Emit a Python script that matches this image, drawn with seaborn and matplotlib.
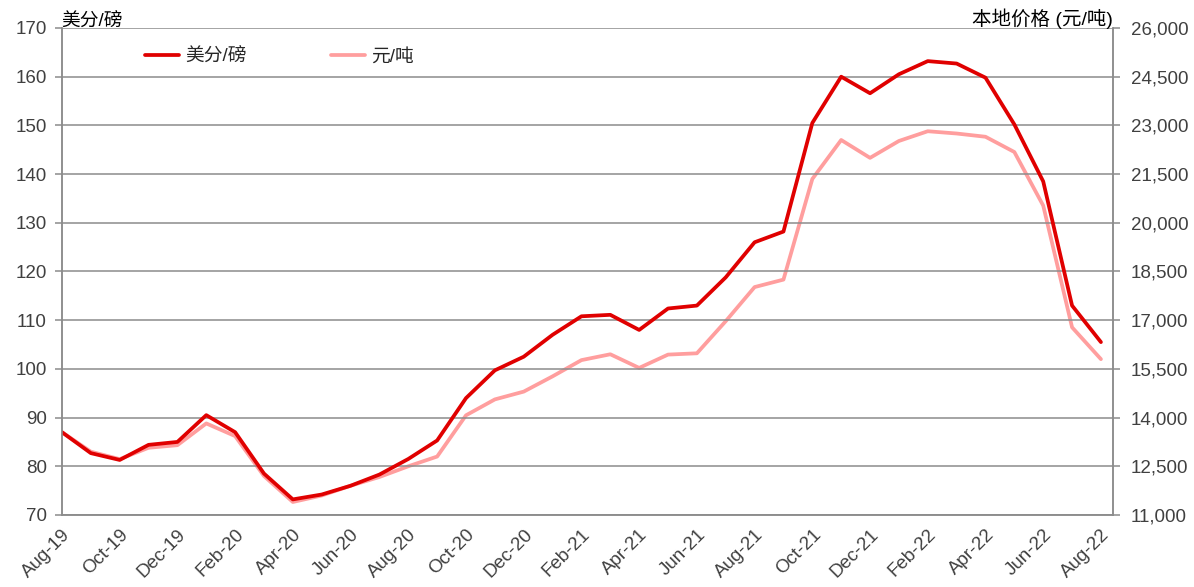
import pandas as pd
import numpy as np
import matplotlib
matplotlib.use("Agg")
import matplotlib.pyplot as plt
import seaborn as sns

# Dados (mensal, Aug-19 a Aug-22)
meses = pd.date_range("2019-08-01", "2022-08-01", freq="MS")
usc_lb = [87.0, 82.7, 81.3, 84.4, 85.0, 90.5, 87.0, 78.5, 73.2, 74.2,
          76.0, 78.3, 81.5, 85.3, 94.0, 99.7, 102.5, 107.0, 110.8, 111.1,
          108.0, 112.4, 113.0, 118.8, 126.0, 128.2, 150.5, 160.0, 156.6, 160.5,
          163.2, 162.7, 159.8, 150.2, 138.5, 113.0, 105.5]
yuan_t = [13550, 12950, 12720, 13070, 13150, 13820, 13430, 12200, 11400, 11600,
          11900, 12170, 12500, 12800, 14070, 14560, 14800, 15270, 15770, 15950,
          15530, 15940, 15980, 16970, 18020, 18250, 21350, 22550, 22000, 22520,
          22820, 22750, 22650, 22180, 20530, 16780, 15800]

rotulos = [d.strftime("%b-%y") for d in meses]

df = pd.DataFrame({"x": np.arange(len(meses)), "usc": usc_lb, "yuan": yuan_t})

sns.set_style("white")
plt.rcParams['font.family'] = ['Liberation Sans', 'Noto Sans CJK SC', 'DejaVu Sans']

cinza = "#404040"
fig = plt.figure(figsize=(11.94, 5.87), dpi=100)
ax = fig.add_axes([0.0519, 0.1227, 0.8803, 0.8296])
ax2 = ax.twinx()

sns.lineplot(data=df, x="x", y="usc", ax=ax, color="#E00000", linewidth=2.7, label="美分/磅", legend=False)
sns.lineplot(data=df, x="x", y="yuan", ax=ax2, color="#FF9E9E", linewidth=2.7, label="元/吨", legend=False)
ax.set_zorder(ax2.get_zorder() + 1)
ax.patch.set_visible(False)

ax.set_xlim(0, 36.42)
ax.set_ylim(70, 170)
ax2.set_ylim(11000, 26000)
ax.set_yticks(np.arange(70, 171, 10))
ax2.set_yticks(np.arange(11000, 26001, 1500))
ax2.set_yticklabels([f"{v:,}" for v in range(11000, 26001, 1500)])
ax.set_xticks(np.arange(0, 37, 2))
ax.set_xticklabels(rotulos[::2], rotation=45, ha="right", rotation_mode="anchor")

ax.grid(axis="y", color="#8c8c8c", linewidth=1.1)
ax.set_axisbelow(True)
for a in (ax, ax2):
    a.set_xlabel("")
    a.set_ylabel("")
    for s in a.spines.values():
        s.set_color("#8c8c8c")
        s.set_linewidth(1.1)
    a.spines["top"].set_visible(False)
    a.tick_params(colors=cinza, labelsize=13.5, length=5, color="#8c8c8c", width=1.1)
ax.tick_params(axis="y", pad=6)
ax2.tick_params(axis="y", pad=8)
ax.tick_params(axis="x", pad=3)

fig.text(0.051, 0.947, "美分/磅", fontsize=13.5, color="black", ha="left", va="bottom")
fig.text(0.932, 0.950, "本地价格 (元/吨)", fontsize=14, color="black", ha="right", va="bottom")

linhas = ax.get_lines() + ax2.get_lines()
ax.legend(linhas, ["美分/磅", "元/吨"], loc="upper left", bbox_to_anchor=(0.063, 0.993),
          ncol=2, frameon=False, fontsize=13.5, handlelength=1.8, handletextpad=0.35,
          columnspacing=4.5)

plt.savefig("out.png", dpi=100)
